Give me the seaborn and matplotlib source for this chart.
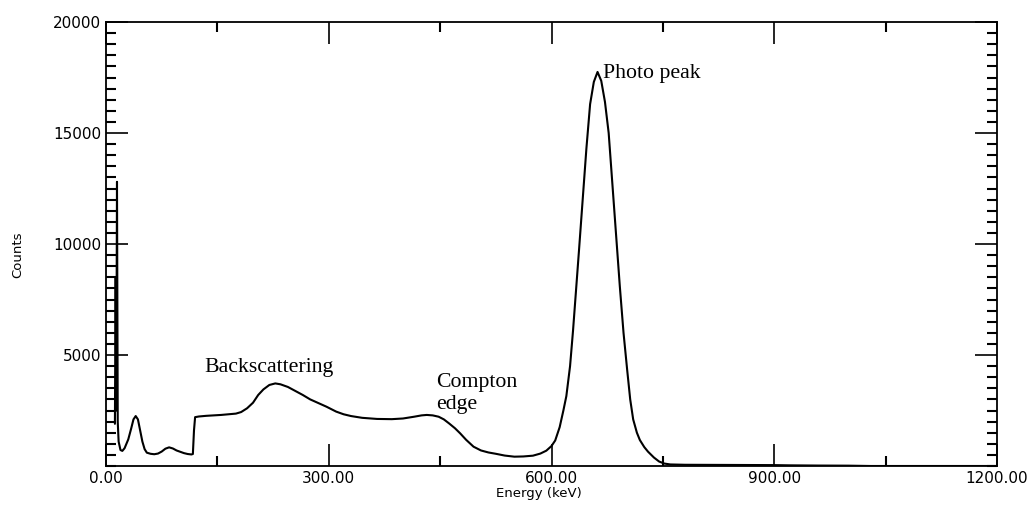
import matplotlib
matplotlib.use("Agg")
import matplotlib.pyplot as plt
import matplotlib.ticker as mticker
import numpy as np
import pandas as pd
import seaborn as sns

# ---- data ----
energy_kev = [12.0, 13.0, 13.8, 14.8, 15.8, 17.0, 19.5, 22, 25, 30, 34, 37, 40, 43, 46, 49, 52, 55,
              60, 65, 70, 75, 80, 85, 90, 95, 100, 105, 110, 115, 117, 118.5, 120, 125, 135, 145,
              155, 165, 175, 182, 190, 198, 205, 212, 220, 228, 235, 245, 255, 265, 275, 285, 297,
              310, 320, 330, 345, 365, 385, 400, 415, 425, 432, 440, 448, 455, 462, 470, 477, 485,
              495, 505, 515, 525, 537, 550, 562, 575, 585, 593, 600, 605, 611, 616, 620, 625, 629,
              633, 637, 642, 647, 652, 657, 662, 667, 672, 677, 682, 687, 692, 697, 702, 706, 710,
              715, 719, 725, 730, 738, 745, 752, 760, 780, 820, 860, 900, 920, 960, 1000, 1030, 1200]
counts = [1900, 8500, 2500, 12800, 2000, 1100, 720, 680, 800, 1200, 1700, 2100, 2250, 2100, 1600,
          1100, 760, 600, 550, 530, 560, 650, 780, 840, 790, 700, 640, 580, 540, 520, 540, 1600,
          2200, 2230, 2260, 2280, 2300, 2330, 2360, 2430, 2600, 2850, 3200, 3450, 3650, 3720, 3680,
          3560, 3380, 3200, 3000, 2850, 2670, 2450, 2330, 2250, 2170, 2120, 2110, 2140, 2220, 2280,
          2300, 2280, 2220, 2100, 1920, 1700, 1470, 1180, 870, 700, 610, 550, 470, 420, 430, 465,
          560, 690, 900, 1150, 1750, 2500, 3150, 4500, 6100, 7900, 9700, 12000, 14300, 16300,
          17300, 17750, 17350, 16400, 15000, 12700, 10400, 8100, 6000, 4300, 3000, 2100, 1500,
          1170, 850, 645, 380, 200, 110, 70, 55, 50, 45, 40, 30, 20, 15, 0, 0]

x_ticks = [0, 300, 600, 900, 1200]
y_ticks = [5000, 10000, 15000, 20000]

annot_text = ["Backscattering", "Compton", "edge", "Photo peak"]
annot_e = [133, 444, 445, 669]
annot_c = [4220, 3570, 2550, 17470]

df = pd.DataFrame({"Energy (keV)": energy_kev, "Counts": counts})

sns.set_theme(style="white")
plt.rcParams["font.family"] = ["DejaVu Sans"]

fig = plt.figure(figsize=(10.30, 5.07), dpi=100)
ax = fig.add_axes([106 / 1030, 1 - 466 / 507, 891 / 1030, 444 / 507])

sns.lineplot(data=df, x="Energy (keV)", y="Counts", color="black", linewidth=1.5,
             ax=ax, sort=False, estimator=None)

ax.set_xlim(0, 1200)
ax.set_ylim(0, 20000)

ax.xaxis.set_major_locator(mticker.FixedLocator(x_ticks))
ax.xaxis.set_minor_locator(mticker.MultipleLocator(150))
ax.yaxis.set_major_locator(mticker.FixedLocator(y_ticks))
ax.yaxis.set_minor_locator(mticker.MultipleLocator(500))
ax.xaxis.set_major_formatter(mticker.FuncFormatter(lambda v, p: f"{v:.2f}"))
ax.yaxis.set_major_formatter(mticker.FuncFormatter(lambda v, p: f"{int(v)}"))

ax.tick_params(which="both", direction="in", top=True, right=True, bottom=True, left=True,
               color="black", labelsize=11, labelcolor="black")
ax.tick_params(which="major", length=15.5, width=1.2, pad=3.5)
ax.tick_params(which="minor", length=7, width=1.5)

for s in ax.spines.values():
    s.set_color("black")
    s.set_linewidth(1.3)
    s.set_visible(True)

ax.set_xlabel("Energy (keV)", fontsize=9.5, color="black")
ax.set_ylabel("Counts", fontsize=9.5, color="black")
ax.xaxis.set_label_coords(0.486, -0.063)
ax.yaxis.set_label_coords(-0.099, 0.475)
ax.xaxis.label.set_va("center")
ax.yaxis.label.set_va("center")

for t, e, c in zip(annot_text, annot_e, annot_c):
    ax.text(e, c, t, family="Liberation Serif", fontsize=15.7, color="black",
            ha="left", va="baseline")

ax.grid(False)
fig.savefig("out.png", dpi=100, facecolor="white")
